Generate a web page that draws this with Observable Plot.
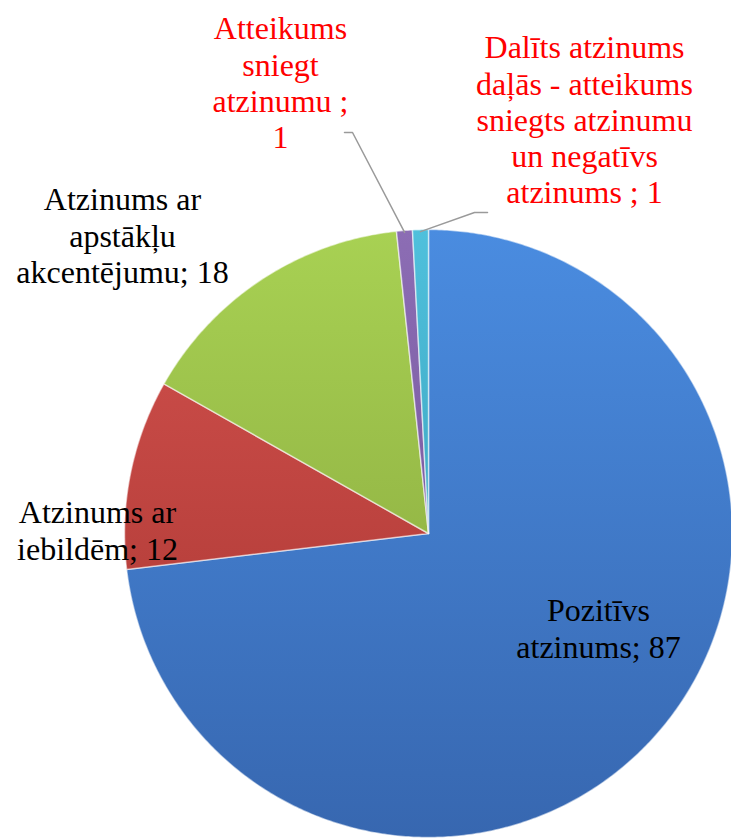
<!DOCTYPE html>
<html><head><meta charset="utf-8">
<script src="https://cdn.jsdelivr.net/npm/d3@7"></script>
<script src="https://cdn.jsdelivr.net/npm/@observablehq/plot@0.6"></script>
<style>body{margin:0;background:#fff} svg text{font-family:"Liberation Serif","Times New Roman","DejaVu Serif",serif !important;}</style>
</head><body><div id="chart"></div>
<script>
// ---- data ----
const categories = [
  "Pozitīvs atzinums",
  "Atzinums ar iebildēm",
  "Atzinums ar apstākļu akcentējumu",
  "Atteikums sniegt atzinumu",
  "Dalīts atzinums daļās - atteikums sniegts atzinumu un negatīvs atzinums"
];
const values = [87, 12, 18, 1, 1];
const labelTexts = [
  "Pozitīvs\natzinums; 87",
  "Atzinums ar\niebildēm; 12",
  "Atzinums ar\napstākļu\nakcentējumu; 18",
  "Atteikums\nsniegt\natzinumu ;\n1",
  "Dalīts atzinums\ndaļās - atteikums\nsniegts atzinumu\nun negatīvs\natzinums ; 1"
];

// ---- styles / layout ----
const W = 731, H = 840;
const cx = 428, cy = 533, R = 304;
const fontSize = 32;
const serif = "'Liberation Serif', 'Times New Roman', 'DejaVu Serif', serif";
const sliceTop = ["#4a8ce0", "#d3524e", "#a8d153", "#8c6db4", "#4fc0dc"];
const sliceBottom = ["#3767b0", "#a5332f", "#83a03a", "#6a4c92", "#2f93ae"];
const labelColors = ["#000", "#000", "#000", "#ff0000", "#ff0000"];
// label anchors: centre x and first-line baseline (px)
const labelAnchor = [[598, 618], [97, 520], [122, 207], [280, 36], [584, 55]];
// leader elbows for the two outside labels (px)
const leaderElbows = {3: [[344, 132], [352, 132]], 4: [[487, 212], [474, 212]]};

const arcs = d3.pie().sort(null).value(d => d)(values);
const pt = (a, r) => [cx + r * Math.sin(a), cy - r * Math.cos(a)];

const slices = arcs.map((a, i) => {
  const pts = [{i, x: cx, y: cy}];
  const n = Math.max(4, Math.ceil((a.endAngle - a.startAngle) / (Math.PI / 360)));
  for (let k = 0; k <= n; k++) {
    const ang = a.startAngle + (a.endAngle - a.startAngle) * k / n;
    const [x, y] = pt(ang, R);
    pts.push({i, x, y});
  }
  return pts;
});

const labels = labelTexts.map((t, i) => ({
  text: t, x: labelAnchor[i][0], y: labelAnchor[i][1] - 0.71 * fontSize, color: labelColors[i]
}));

const leaders = [];
for (const key of Object.keys(leaderElbows)) {
  const i = +key, a = arcs[i];
  for (const [x, y] of leaderElbows[key]) leaders.push({id: i, x, y});
  const [x, y] = pt((a.startAngle + a.endAngle) / 2, R - 2);
  leaders.push({id: i, x, y});
}

const defsMark = () => {
  const defs = d3.create("svg:defs");
  sliceTop.forEach((c, i) => {
    const g = defs.append("linearGradient").attr("id", "sg" + i)
      .attr("gradientUnits", "userSpaceOnUse")
      .attr("x1", 0).attr("y1", cy - R).attr("x2", 0).attr("y2", cy + R);
    g.append("stop").attr("offset", 0).attr("stop-color", c);
    g.append("stop").attr("offset", 1).attr("stop-color", sliceBottom[i]);
  });
  return defs.node();
};

const chart = Plot.plot({
  width: W, height: H, margin: 0,
  style: {fontFamily: serif, background: "#fff"},
  x: {domain: [0, W], range: [0, W], axis: null},
  y: {domain: [0, H], range: [0, H], axis: null},
  marks: [
    defsMark,
    ...slices.map((s, i) => Plot.line(s, {
      x: "x", y: "y", curve: "linear-closed",
      fill: `url(#sg${i})`, stroke: "#ffffff", strokeOpacity: 0.55, strokeWidth: 1.5
    })),
    Plot.line(leaders, {x: "x", y: "y", z: "id", stroke: "#9a9a9a", strokeWidth: 1.5}),
    Plot.text(labels, {
      x: "x", y: "y", text: "text", fill: d => d.color,
      fontSize, fontFamily: serif,
      lineAnchor: "top", lineHeight: 1.13, textAnchor: "middle"
    })
  ]
});
document.getElementById("chart").appendChild(chart);
</script>
</body></html>
